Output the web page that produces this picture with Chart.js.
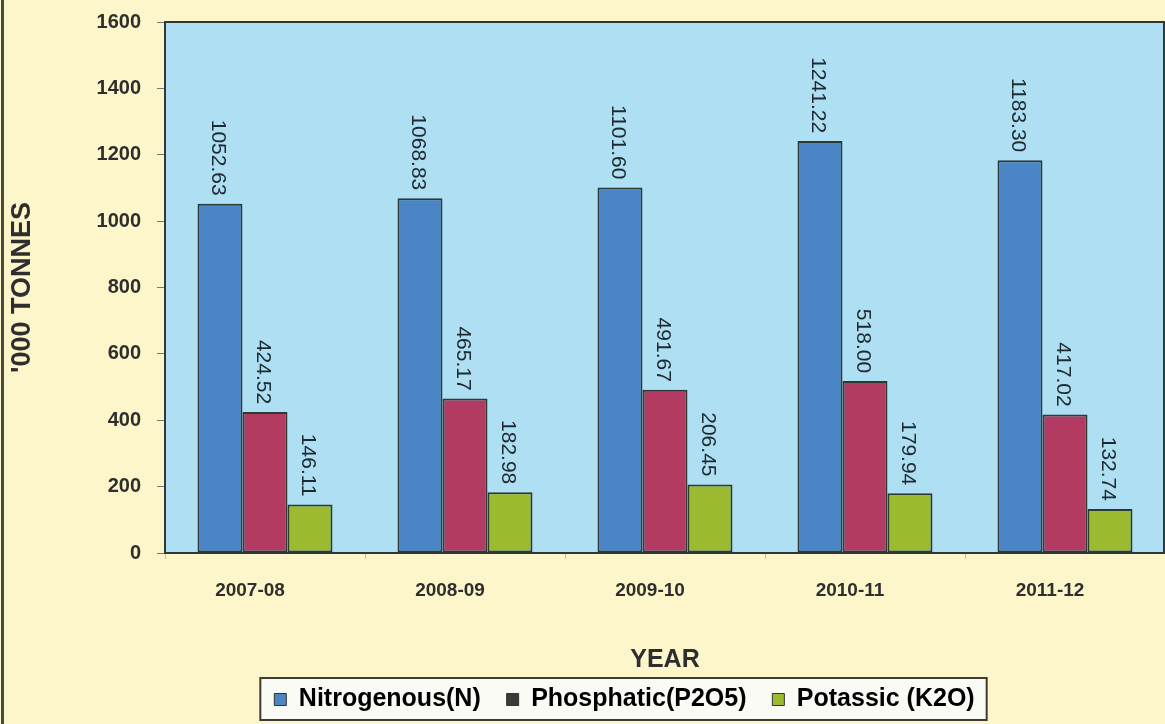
<!DOCTYPE html>
<html>
<head>
<meta charset="utf-8">
<script src="https://cdn.jsdelivr.net/npm/chart.js@4.4.1/dist/chart.umd.min.js"></script>
<style>
html, body { margin: 0; padding: 0; background: #fdf6cb; }
#caixa { width: 1165px; height: 724px; }
</style>
</head>
<body>
<div id="caixa"><canvas id="grafico" width="1165" height="724"></canvas></div>
<script>
// Dados
const anos = ['2007-08', '2008-09', '2009-10', '2010-11', '2011-12'];
const nitrogenado = [1052.63, 1068.83, 1101.60, 1241.22, 1183.30];
const fosfatado = [424.52, 465.17, 491.67, 518.00, 417.02];
const potassico = [146.11, 182.98, 206.45, 179.94, 132.74];
const nomesSeries = ['Nitrogenous(N)', 'Phosphatic(P2O5)', 'Potassic (K2O)'];
const yMin = 0, yMax = 1600, yPasso = 200;

const corAzul = '#4a86c6';
const corVermelha = '#b33a60';
const corVerde = '#9bba2f';
const corBorda = '#2c3a36';
const fonte = "'Liberation Sans', Arial, sans-serif";

// fundo da área do gráfico + moldura
const fundoPlugin = {
    id: 'fundo',
    beforeDraw(chart) {
        const ctx = chart.ctx;
        const a = chart.chartArea;
        ctx.save();
        ctx.fillStyle = '#fdf6cb';
        ctx.fillRect(0, 0, chart.width, chart.height);
        ctx.fillStyle = '#4a4a44';
        ctx.fillRect(1, 0, 3, chart.height);
        ctx.fillStyle = '#aedff3';
        ctx.fillRect(a.left, a.top, a.right - a.left, a.bottom - a.top);

        // caixa branca da legenda
        const lg = chart.legend;
        if (lg && lg.lineWidths) {
            const pad = lg.options.labels.padding;
            const lw = lg.lineWidths[0];
            const inicio = (lg.left + pad + lg.right - lw) / 2;
            const topo = lg.top + pad;
            const alt = Math.max(lg.options.labels.boxHeight, lg.options.labels.font.size);
            ctx.fillStyle = '#fbfbf6';
            ctx.strokeStyle = '#3a3a36';
            ctx.lineWidth = 2;
            ctx.fillRect(inicio - 14, topo - 9, lw - pad + 26, alt + 17);
            ctx.strokeRect(inicio - 14, topo - 9, lw - pad + 26, alt + 17);
        }
        ctx.restore();
    },
    beforeDatasetsDraw(chart) {
        const ctx = chart.ctx;
        const a = chart.chartArea;
        ctx.save();
        ctx.strokeStyle = '#2e3a3a';
        ctx.lineWidth = 2;
        ctx.strokeRect(a.left, a.top, a.right - a.left - 1, a.bottom - a.top);
        ctx.restore();
    },
    afterLayout(chart) {
        // desloca a legenda para a direita, como no original
        chart.legend.left += 42;
        chart.legend.right += 42;
    }
};

// rótulos verticais acima das barras
const rotuloPlugin = {
    id: 'rotulos',
    afterDatasetsDraw(chart) {
        const ctx = chart.ctx;
        ctx.save();
        ctx.font = "21px " + fonte;
        ctx.fillStyle = '#1e2a30';
        ctx.textAlign = 'right';
        ctx.textBaseline = 'middle';
        chart.data.datasets.forEach((ds, i) => {
            chart.getDatasetMeta(i).data.forEach((barra, j) => {
                ctx.save();
                ctx.translate(barra.x - 2, barra.y - 8);
                ctx.rotate(Math.PI / 2);
                ctx.fillText(ds.data[j].toFixed(2), 0, 0);
                ctx.restore();
            });
        });
        ctx.restore();
    }
};

const dadosGrafico = {
    labels: anos,
    datasets: [
        { label: nomesSeries[0], data: nitrogenado, backgroundColor: corAzul },
        { label: nomesSeries[1], data: fosfatado, backgroundColor: corVermelha },
        { label: nomesSeries[2], data: potassico, backgroundColor: corVerde }
    ].map(d => Object.assign(d, {
        borderColor: corBorda,
        borderWidth: 2,
        borderSkipped: false,
        categoryPercentage: 0.675,
        barPercentage: 1
    }))
};

const configGrafico = {
    type: 'bar',
    data: dadosGrafico,
    options: {
        responsive: false,
        animation: false,
        devicePixelRatio: 1,
        layout: { padding: { top: 22, left: 0, right: 0, bottom: 2 } },
        plugins: {
            tooltip: { enabled: false },
            legend: {
                position: 'bottom',
                labels: {
                    color: '#222',
                    font: { family: fonte, size: 25, weight: 'bold' },
                    boxWidth: 12,
                    boxHeight: 12,
                    padding: 12,
                    generateLabels(chart) {
                        return chart.data.datasets.map((ds, i) => ({
                            text: ds.label + (i < 2 ? '  ' : ''),
                            fillStyle: i === 1 ? '#3a3a3a' : ds.backgroundColor,
                            strokeStyle: '#333',
                            lineWidth: 1,
                            datasetIndex: i,
                            hidden: false
                        }));
                    }
                }
            }
        },
        scales: {
            x: {
                grid: { drawOnChartArea: false, tickLength: 6, color: '#c9c29a' },
                border: { display: false },
                ticks: {
                    color: '#2e2e2e',
                    font: { family: fonte, size: 19, weight: 'bold' },
                    padding: 20,
                    labelOffset: -15
                },
                title: {
                    display: true,
                    text: 'YEAR',
                    color: '#2e2e2e',
                    font: { family: fonte, size: 25, weight: 'bold' },
                    padding: { top: 32, bottom: 0 }
                },
                afterFit(scale) {
                    const lg = scale.chart.legend;
                    scale.height = scale.chart.height - 553 - 2 - (lg ? lg.height : 0);
                }
            },
            y: {
                min: yMin,
                max: yMax,
                grid: { drawOnChartArea: false, tickLength: 8, color: '#777' },
                border: { display: false },
                ticks: {
                    stepSize: yPasso,
                    color: '#2e2e2e',
                    font: { family: fonte, size: 20, weight: 'bold' },
                    padding: 16,
                    callback: v => String(v)
                },
                title: {
                    display: true,
                    text: "'000 TONNES",
                    color: '#2e2e2e',
                    font: { family: fonte, size: 27, weight: 'bold' },
                    padding: { top: 6, bottom: 0 }
                },
                afterFit(scale) {
                    scale.width = 165;
                    scale.paddingTop = 0;
                    scale.paddingBottom = 0;
                }
            }
        }
    },
    plugins: [fundoPlugin, rotuloPlugin]
};

const ctx = document.getElementById('grafico').getContext('2d');
const grafico = new Chart(ctx, configGrafico);
</script>
</body>
</html>
